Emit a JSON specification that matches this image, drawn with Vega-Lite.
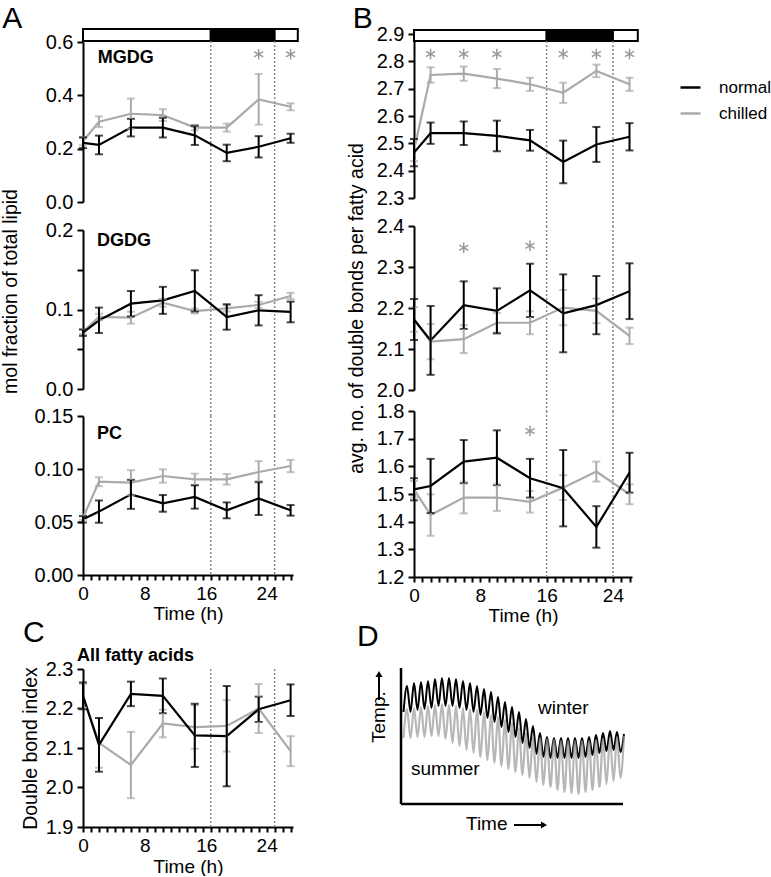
{
"$schema": "https://vega.github.io/schema/vega-lite/v6.json",
"padding": {"left": 0, "top": 3, "right": 0, "bottom": 0},
"config": {
 "font": "Liberation Sans",
 "view": {"stroke": null},
 "axis": {"grid": false, "domainColor": "black", "domainWidth": 2, "tickColor": "black", "tickWidth": 2, "tickSize": 6, "labelFontSize": 20, "labelColor": "black", "labelPadding": 4, "titleFontSize": 19.5, "titleFontWeight": "normal", "titleColor": "black", "labelOverlap": false, "labelFlush": false, "labelFont": "Liberation Sans", "titleFont": "Liberation Sans"},
 "axisX": {"tickSize": 5, "labelFontSize": 19, "labelPadding": 4}
},
"datasets": {
 "main": [
  {"p":"MGDG","g":"chilled","t":0,"v":0.228,"lo":0.213,"hi":0.243},
  {"p":"MGDG","g":"chilled","t":2,"v":0.301,"lo":0.281,"hi":0.321},
  {"p":"MGDG","g":"chilled","t":6,"v":0.331,"lo":0.274,"hi":0.388},
  {"p":"MGDG","g":"chilled","t":10,"v":0.326,"lo":0.304,"hi":0.348},
  {"p":"MGDG","g":"chilled","t":14,"v":0.279,"lo":0.269,"hi":0.289},
  {"p":"MGDG","g":"chilled","t":18,"v":0.279,"lo":0.264,"hi":0.294},
  {"p":"MGDG","g":"chilled","t":22,"v":0.385,"lo":0.29,"hi":0.48},
  {"p":"MGDG","g":"chilled","t":26,"v":0.357,"lo":0.344,"hi":0.37},
  {"p":"MGDG","g":"normal","t":0,"v":0.222,"lo":0.202,"hi":0.242},
  {"p":"MGDG","g":"normal","t":2,"v":0.214,"lo":0.179,"hi":0.249},
  {"p":"MGDG","g":"normal","t":6,"v":0.279,"lo":0.246,"hi":0.312},
  {"p":"MGDG","g":"normal","t":10,"v":0.279,"lo":0.242,"hi":0.316},
  {"p":"MGDG","g":"normal","t":14,"v":0.25,"lo":0.214,"hi":0.286},
  {"p":"MGDG","g":"normal","t":18,"v":0.184,"lo":0.153,"hi":0.215},
  {"p":"MGDG","g":"normal","t":22,"v":0.207,"lo":0.167,"hi":0.247},
  {"p":"MGDG","g":"normal","t":26,"v":0.239,"lo":0.222,"hi":0.256},
  {"p":"DGDG","g":"chilled","t":0,"v":0.072,"lo":0.069,"hi":0.075},
  {"p":"DGDG","g":"chilled","t":2,"v":0.0906,"lo":0.0866,"hi":0.0946},
  {"p":"DGDG","g":"chilled","t":6,"v":0.0897,"lo":0.0822,"hi":0.0972},
  {"p":"DGDG","g":"chilled","t":10,"v":0.1086,"lo":0.1036,"hi":0.1136},
  {"p":"DGDG","g":"chilled","t":14,"v":0.098,"lo":0.095,"hi":0.101},
  {"p":"DGDG","g":"chilled","t":18,"v":0.1015,"lo":0.0975,"hi":0.1055},
  {"p":"DGDG","g":"chilled","t":22,"v":0.1057,"lo":0.1017,"hi":0.1097},
  {"p":"DGDG","g":"chilled","t":26,"v":0.117,"lo":0.113,"hi":0.121},
  {"p":"DGDG","g":"normal","t":0,"v":0.0708,"lo":0.0668,"hi":0.0748},
  {"p":"DGDG","g":"normal","t":2,"v":0.0864,"lo":0.0704,"hi":0.1024},
  {"p":"DGDG","g":"normal","t":6,"v":0.1073,"lo":0.0913,"hi":0.1233},
  {"p":"DGDG","g":"normal","t":10,"v":0.1115,"lo":0.0945,"hi":0.1285},
  {"p":"DGDG","g":"normal","t":14,"v":0.1233,"lo":0.0973,"hi":0.1493},
  {"p":"DGDG","g":"normal","t":18,"v":0.0906,"lo":0.0746,"hi":0.1066},
  {"p":"DGDG","g":"normal","t":22,"v":0.099,"lo":0.08,"hi":0.118},
  {"p":"DGDG","g":"normal","t":26,"v":0.0969,"lo":0.0839,"hi":0.1099},
  {"p":"PC","g":"chilled","t":0,"v":0.054,"lo":0.052,"hi":0.056},
  {"p":"PC","g":"chilled","t":2,"v":0.088,"lo":0.0838,"hi":0.0922},
  {"p":"PC","g":"chilled","t":6,"v":0.0871,"lo":0.0753,"hi":0.0989},
  {"p":"PC","g":"chilled","t":10,"v":0.0934,"lo":0.0871,"hi":0.0997},
  {"p":"PC","g":"chilled","t":14,"v":0.0903,"lo":0.085,"hi":0.0956},
  {"p":"PC","g":"chilled","t":18,"v":0.0903,"lo":0.0853,"hi":0.0953},
  {"p":"PC","g":"chilled","t":22,"v":0.0972,"lo":0.087,"hi":0.1074},
  {"p":"PC","g":"chilled","t":26,"v":0.1028,"lo":0.097,"hi":0.1086},
  {"p":"PC","g":"normal","t":0,"v":0.0525,"lo":0.0495,"hi":0.0555},
  {"p":"PC","g":"normal","t":2,"v":0.0598,"lo":0.0493,"hi":0.0703},
  {"p":"PC","g":"normal","t":6,"v":0.0761,"lo":0.0624,"hi":0.0898},
  {"p":"PC","g":"normal","t":10,"v":0.0676,"lo":0.0597,"hi":0.0755},
  {"p":"PC","g":"normal","t":14,"v":0.0736,"lo":0.0626,"hi":0.0846},
  {"p":"PC","g":"normal","t":18,"v":0.061,"lo":0.0535,"hi":0.0685},
  {"p":"PC","g":"normal","t":22,"v":0.0723,"lo":0.0566,"hi":0.088},
  {"p":"PC","g":"normal","t":26,"v":0.061,"lo":0.056,"hi":0.066},
  {"p":"B1","g":"chilled","t":0,"v":2.475,"lo":2.435,"hi":2.515},
  {"p":"B1","g":"chilled","t":2,"v":2.75,"lo":2.722,"hi":2.778},
  {"p":"B1","g":"chilled","t":6,"v":2.755,"lo":2.729,"hi":2.781},
  {"p":"B1","g":"chilled","t":10,"v":2.737,"lo":2.702,"hi":2.772},
  {"p":"B1","g":"chilled","t":14,"v":2.716,"lo":2.692,"hi":2.74},
  {"p":"B1","g":"chilled","t":18,"v":2.685,"lo":2.648,"hi":2.722},
  {"p":"B1","g":"chilled","t":22,"v":2.765,"lo":2.742,"hi":2.788},
  {"p":"B1","g":"chilled","t":26,"v":2.716,"lo":2.692,"hi":2.74},
  {"p":"B1","g":"normal","t":0,"v":2.466,"lo":2.416,"hi":2.516},
  {"p":"B1","g":"normal","t":2,"v":2.537,"lo":2.498,"hi":2.576},
  {"p":"B1","g":"normal","t":6,"v":2.537,"lo":2.494,"hi":2.58},
  {"p":"B1","g":"normal","t":10,"v":2.527,"lo":2.471,"hi":2.583},
  {"p":"B1","g":"normal","t":14,"v":2.511,"lo":2.473,"hi":2.549},
  {"p":"B1","g":"normal","t":18,"v":2.432,"lo":2.354,"hi":2.51},
  {"p":"B1","g":"normal","t":22,"v":2.496,"lo":2.432,"hi":2.56},
  {"p":"B1","g":"normal","t":26,"v":2.524,"lo":2.474,"hi":2.574},
  {"p":"B2","g":"chilled","t":0,"v":2.172,"lo":2.142,"hi":2.202},
  {"p":"B2","g":"chilled","t":2,"v":2.118,"lo":2.075,"hi":2.161},
  {"p":"B2","g":"chilled","t":6,"v":2.124,"lo":2.09,"hi":2.158},
  {"p":"B2","g":"chilled","t":10,"v":2.164,"lo":2.14,"hi":2.188},
  {"p":"B2","g":"chilled","t":14,"v":2.164,"lo":2.136,"hi":2.192},
  {"p":"B2","g":"chilled","t":18,"v":2.201,"lo":2.158,"hi":2.244},
  {"p":"B2","g":"chilled","t":22,"v":2.193,"lo":2.163,"hi":2.223},
  {"p":"B2","g":"chilled","t":26,"v":2.132,"lo":2.112,"hi":2.152},
  {"p":"B2","g":"normal","t":0,"v":2.172,"lo":2.122,"hi":2.222},
  {"p":"B2","g":"normal","t":2,"v":2.121,"lo":2.037,"hi":2.205},
  {"p":"B2","g":"normal","t":6,"v":2.207,"lo":2.149,"hi":2.265},
  {"p":"B2","g":"normal","t":10,"v":2.193,"lo":2.138,"hi":2.248},
  {"p":"B2","g":"normal","t":14,"v":2.243,"lo":2.178,"hi":2.308},
  {"p":"B2","g":"normal","t":18,"v":2.187,"lo":2.092,"hi":2.282},
  {"p":"B2","g":"normal","t":22,"v":2.207,"lo":2.136,"hi":2.278},
  {"p":"B2","g":"normal","t":26,"v":2.241,"lo":2.173,"hi":2.309},
  {"p":"B3","g":"chilled","t":0,"v":1.517,"lo":1.487,"hi":1.547},
  {"p":"B3","g":"chilled","t":2,"v":1.424,"lo":1.349,"hi":1.499},
  {"p":"B3","g":"chilled","t":6,"v":1.487,"lo":1.43,"hi":1.544},
  {"p":"B3","g":"chilled","t":10,"v":1.487,"lo":1.439,"hi":1.535},
  {"p":"B3","g":"chilled","t":14,"v":1.472,"lo":1.433,"hi":1.511},
  {"p":"B3","g":"chilled","t":18,"v":1.523,"lo":1.478,"hi":1.568},
  {"p":"B3","g":"chilled","t":22,"v":1.581,"lo":1.545,"hi":1.617},
  {"p":"B3","g":"chilled","t":26,"v":1.499,"lo":1.463,"hi":1.535},
  {"p":"B3","g":"normal","t":0,"v":1.517,"lo":1.477,"hi":1.557},
  {"p":"B3","g":"normal","t":2,"v":1.529,"lo":1.431,"hi":1.627},
  {"p":"B3","g":"normal","t":6,"v":1.617,"lo":1.539,"hi":1.695},
  {"p":"B3","g":"normal","t":10,"v":1.631,"lo":1.532,"hi":1.73},
  {"p":"B3","g":"normal","t":14,"v":1.557,"lo":1.487,"hi":1.627},
  {"p":"B3","g":"normal","t":18,"v":1.521,"lo":1.383,"hi":1.659},
  {"p":"B3","g":"normal","t":22,"v":1.381,"lo":1.306,"hi":1.456},
  {"p":"B3","g":"normal","t":26,"v":1.577,"lo":1.505,"hi":1.649},
  {"p":"C","g":"chilled","t":0,"v":2.232,"lo":2.202,"hi":2.262},
  {"p":"C","g":"chilled","t":2,"v":2.113,"lo":2.05,"hi":2.176},
  {"p":"C","g":"chilled","t":6,"v":2.057,"lo":1.973,"hi":2.141},
  {"p":"C","g":"chilled","t":10,"v":2.162,"lo":2.127,"hi":2.197},
  {"p":"C","g":"chilled","t":14,"v":2.153,"lo":2.098,"hi":2.208},
  {"p":"C","g":"chilled","t":18,"v":2.156,"lo":2.091,"hi":2.221},
  {"p":"C","g":"chilled","t":22,"v":2.2,"lo":2.138,"hi":2.262},
  {"p":"C","g":"chilled","t":26,"v":2.092,"lo":2.054,"hi":2.13},
  {"p":"C","g":"normal","t":0,"v":2.232,"lo":2.198,"hi":2.266},
  {"p":"C","g":"normal","t":2,"v":2.108,"lo":2.04,"hi":2.176},
  {"p":"C","g":"normal","t":6,"v":2.237,"lo":2.206,"hi":2.268},
  {"p":"C","g":"normal","t":10,"v":2.232,"lo":2.188,"hi":2.276},
  {"p":"C","g":"normal","t":14,"v":2.132,"lo":2.052,"hi":2.212},
  {"p":"C","g":"normal","t":18,"v":2.13,"lo":2.003,"hi":2.257},
  {"p":"C","g":"normal","t":22,"v":2.198,"lo":2.166,"hi":2.23},
  {"p":"C","g":"normal","t":26,"v":2.221,"lo":2.181,"hi":2.261}
 ],
 "stars": [
  {"p":"MGDG","t":22,"v":0.554},{"p":"MGDG","t":26,"v":0.554},
  {"p":"B1","t":2,"v":2.827},{"p":"B1","t":6,"v":2.827},{"p":"B1","t":10,"v":2.827},{"p":"B1","t":18,"v":2.827},{"p":"B1","t":22,"v":2.827},{"p":"B1","t":26,"v":2.827},
  {"p":"B2","t":6,"v":2.347},{"p":"B2","t":14,"v":2.352},
  {"p":"B3","t":14,"v":1.728}
 ],
 "bars": [
  {"col":"A","a":0,"b":16,"phase":"light"},{"col":"A","a":16,"b":24,"phase":"dark"},{"col":"A","a":24,"b":26.9,"phase":"light"},
  {"col":"B","a":0,"b":16,"phase":"light"},{"col":"B","a":16,"b":24,"phase":"dark"},{"col":"B","a":24,"b":27,"phase":"light"}
 ],
 "wave": [
  {"s":"winter","x":2.5,"h":92},{"s":"winter","x":6,"h":118},{"s":"winter","x":9.5,"h":92},{"s":"winter","x":13,"h":121},{"s":"winter","x":16.5,"h":94},{"s":"winter","x":20,"h":122},{"s":"winter","x":23.5,"h":95},{"s":"winter","x":27,"h":123},{"s":"winter","x":30.5,"h":96},{"s":"winter","x":34,"h":125},{"s":"winter","x":37.5,"h":98},{"s":"winter","x":41,"h":126},{"s":"winter","x":44.5,"h":98},{"s":"winter","x":48,"h":126},{"s":"winter","x":51.5,"h":98},{"s":"winter","x":55,"h":125},{"s":"winter","x":58.5,"h":96},{"s":"winter","x":62,"h":123},{"s":"winter","x":65.5,"h":94},{"s":"winter","x":69,"h":121},{"s":"winter","x":72.5,"h":92},{"s":"winter","x":76,"h":118},{"s":"winter","x":79.5,"h":89},{"s":"winter","x":83,"h":115},{"s":"winter","x":86.5,"h":86},{"s":"winter","x":90,"h":112},{"s":"winter","x":93.5,"h":82},{"s":"winter","x":97,"h":107},{"s":"winter","x":100.5,"h":77},{"s":"winter","x":104,"h":102},{"s":"winter","x":107.5,"h":72},{"s":"winter","x":111,"h":97},{"s":"winter","x":114.5,"h":67},{"s":"winter","x":118,"h":92},{"s":"winter","x":121.5,"h":61},{"s":"winter","x":125,"h":85},{"s":"winter","x":128.5,"h":56},{"s":"winter","x":132,"h":78},{"s":"winter","x":135.5,"h":50},{"s":"winter","x":139,"h":71},{"s":"winter","x":142.5,"h":47},{"s":"winter","x":146,"h":67},{"s":"winter","x":149.5,"h":46},{"s":"winter","x":153,"h":66},{"s":"winter","x":156.5,"h":46},{"s":"winter","x":160,"h":66},{"s":"winter","x":163.5,"h":46},{"s":"winter","x":167,"h":66},{"s":"winter","x":170.5,"h":46},{"s":"winter","x":174,"h":66},{"s":"winter","x":177.5,"h":46},{"s":"winter","x":181,"h":66},{"s":"winter","x":184.5,"h":47},{"s":"winter","x":188,"h":67},{"s":"winter","x":191.5,"h":49},{"s":"winter","x":195,"h":69},{"s":"winter","x":198.5,"h":51},{"s":"winter","x":202,"h":71},{"s":"winter","x":205.5,"h":53},{"s":"winter","x":209,"h":73},{"s":"winter","x":212.5,"h":54},{"s":"winter","x":216,"h":72},{"s":"winter","x":219.5,"h":52},{"s":"winter","x":223,"h":70},
  {"s":"summer","x":2.5,"h":66},{"s":"summer","x":6,"h":95},{"s":"summer","x":9.5,"h":66},{"s":"summer","x":13,"h":96},{"s":"summer","x":16.5,"h":67},{"s":"summer","x":20,"h":97},{"s":"summer","x":23.5,"h":67},{"s":"summer","x":27,"h":98},{"s":"summer","x":30.5,"h":68},{"s":"summer","x":34,"h":99},{"s":"summer","x":37.5,"h":68},{"s":"summer","x":41,"h":100},{"s":"summer","x":44.5,"h":65},{"s":"summer","x":48,"h":99},{"s":"summer","x":51.5,"h":61},{"s":"summer","x":55,"h":98},{"s":"summer","x":58.5,"h":58},{"s":"summer","x":62,"h":96},{"s":"summer","x":65.5,"h":54},{"s":"summer","x":69,"h":95},{"s":"summer","x":72.5,"h":51},{"s":"summer","x":76,"h":94},{"s":"summer","x":79.5,"h":47},{"s":"summer","x":83,"h":92},{"s":"summer","x":86.5,"h":44},{"s":"summer","x":90,"h":89},{"s":"summer","x":93.5,"h":41},{"s":"summer","x":97,"h":87},{"s":"summer","x":100.5,"h":38},{"s":"summer","x":104,"h":84},{"s":"summer","x":107.5,"h":35},{"s":"summer","x":111,"h":81},{"s":"summer","x":114.5,"h":32},{"s":"summer","x":118,"h":76},{"s":"summer","x":121.5,"h":29},{"s":"summer","x":125,"h":71},{"s":"summer","x":128.5,"h":26},{"s":"summer","x":132,"h":67},{"s":"summer","x":135.5,"h":22},{"s":"summer","x":139,"h":66},{"s":"summer","x":142.5,"h":19},{"s":"summer","x":146,"h":65},{"s":"summer","x":149.5,"h":17},{"s":"summer","x":153,"h":64},{"s":"summer","x":156.5,"h":14},{"s":"summer","x":160,"h":63},{"s":"summer","x":163.5,"h":12},{"s":"summer","x":167,"h":63},{"s":"summer","x":170.5,"h":11},{"s":"summer","x":174,"h":63},{"s":"summer","x":177.5,"h":10},{"s":"summer","x":181,"h":63},{"s":"summer","x":184.5,"h":12},{"s":"summer","x":188,"h":63},{"s":"summer","x":191.5,"h":14},{"s":"summer","x":195,"h":64},{"s":"summer","x":198.5,"h":17},{"s":"summer","x":202,"h":65},{"s":"summer","x":205.5,"h":20},{"s":"summer","x":209,"h":66},{"s":"summer","x":212.5,"h":23},{"s":"summer","x":216,"h":67},{"s":"summer","x":219.5,"h":26},{"s":"summer","x":223,"h":68}
 ]
},
"hconcat": [
 {
  "vconcat": [
   {"width": 10, "height": 7, "data": {"values": []}, "mark": "point"},
   {
    "width": 210, "height": 160,
    "layer": [
     {"data": {"name": "bars"}, "transform": [{"filter": "datum.col === 'A'"}], "mark": {"type": "rect", "stroke": "black", "strokeWidth": 2}, "encoding": {"x": {"field": "a", "type": "quantitative", "scale": {"domain": [0, 26.3], "nice": false, "zero": false}, "axis": null}, "x2": {"field": "b"}, "y": {"datum": 0.6487, "scale": {"domain": [0, 0.6], "nice": false, "zero": false}}, "y2": {"datum": 0.6037}, "fill": {"field": "phase", "type": "nominal", "scale": {"domain": ["light", "dark"], "range": ["white", "black"]}, "legend": null}}},
     {"data": {"values": [{"t": 16}, {"t": 24}]}, "mark": {"type": "rule", "color": "#888", "strokeDash": [2, 2], "strokeWidth": 1.5}, "encoding": {"x": {"field": "t", "type": "quantitative", "scale": {"domain": [0, 26.3], "nice": false, "zero": false}, "axis": null}, "y": {"datum": 0.6037, "scale": {"domain": [0, 0.6], "nice": false, "zero": false}}, "y2": {"datum": -0.105}}},
     {"data": {"name": "main"}, "transform": [{"filter": "datum.p === 'MGDG'"}], "mark": {"type": "line", "strokeWidth": 2.2}, "encoding": {"x": {"field": "t", "type": "quantitative", "scale": {"domain": [0, 26.3], "nice": false, "zero": false}, "axis": null}, "y": {"field": "v", "type": "quantitative", "scale": {"domain": [0, 0.6], "nice": false, "zero": false}, "axis": {"values": [0, 0.2, 0.4, 0.6], "tickCount": 10, "format": ".1f", "title": null, "labelOverlap": false}}, "color": {"field": "g", "type": "nominal", "scale": {"domain": ["normal", "chilled"], "range": ["#000000", "#aaaaaa"]}, "legend": {"title": null, "orient": "none", "legendX": 596, "legendY": 42, "symbolType": "stroke", "symbolSize": 400, "symbolStrokeWidth": 2.5, "symbolOpacity": 1, "labelFontSize": 17, "labelOffset": 17, "rowPadding": 6, "labelColor": "black", "labelFont": "Liberation Sans"}}}},
     {"data": {"name": "main"}, "transform": [{"filter": "datum.p === 'MGDG'"}], "mark": {"type": "errorbar", "ticks": {"size": 8}, "thickness": 2}, "encoding": {"x": {"field": "t", "type": "quantitative", "scale": {"domain": [0, 26.3], "nice": false, "zero": false}, "axis": null}, "y": {"field": "lo", "type": "quantitative", "title": null, "scale": {"domain": [0, 0.6], "nice": false, "zero": false}}, "y2": {"field": "hi"}, "color": {"field": "g", "type": "nominal", "scale": {"domain": ["normal", "chilled"], "range": ["#000000", "#aaaaaa"]}, "legend": {"title": null, "orient": "none", "legendX": 596, "legendY": 42, "symbolType": "stroke", "symbolSize": 400, "symbolStrokeWidth": 2.5, "symbolOpacity": 1, "labelFontSize": 17, "labelOffset": 17, "rowPadding": 6, "labelColor": "black", "labelFont": "Liberation Sans"}}}},
     {"data": {"name": "stars"}, "transform": [{"filter": "datum.p === 'MGDG'"}], "mark": {"type": "point", "shape": "M0,-1L0,1M-0.87,-0.5L0.87,0.5M-0.87,0.5L0.87,-0.5", "filled": false, "stroke": "#999", "strokeWidth": 1.5, "size": 110, "opacity": 1}, "encoding": {"x": {"field": "t", "type": "quantitative", "scale": {"domain": [0, 26.3], "nice": false, "zero": false}, "axis": null}, "y": {"field": "v", "type": "quantitative", "scale": {"domain": [0, 0.6], "nice": false, "zero": false}}}},
     {"data": {"values": [{}]}, "mark": {"type": "text", "text": "MGDG", "fontWeight": "bold", "fontSize": 18, "align": "left", "baseline": "alphabetic"}, "encoding": {"x": {"datum": 1.84, "scale": {"domain": [0, 26.3], "nice": false, "zero": false}, "axis": null}, "y": {"datum": 0.522, "scale": {"domain": [0, 0.6], "nice": false, "zero": false}}}},
     {"data": {"values": [{}]}, "mark": {"type": "text", "text": "A", "fontSize": 30, "align": "left", "baseline": "alphabetic"}, "encoding": {"x": {"datum": -10.1, "scale": {"domain": [0, 26.3], "nice": false, "zero": false}, "axis": null}, "y": {"datum": 0.6524, "scale": {"domain": [0, 0.6], "nice": false, "zero": false}}}}
    ]
   },
   {"width": 10, "height": 26, "data": {"values": []}, "mark": "point"},
   {
    "width": 210, "height": 159,
    "layer": [
     {"data": {"values": [{"t": 16}, {"t": 24}]}, "mark": {"type": "rule", "color": "#888", "strokeDash": [2, 2], "strokeWidth": 1.5}, "encoding": {"x": {"field": "t", "type": "quantitative", "scale": {"domain": [0, 26.3], "nice": false, "zero": false}, "axis": null}, "y": {"datum": 0.2, "scale": {"domain": [0, 0.2], "nice": false, "zero": false}}, "y2": {"datum": -0.034}}},
     {"data": {"name": "main"}, "transform": [{"filter": "datum.p === 'DGDG'"}], "mark": {"type": "line", "strokeWidth": 2.2}, "encoding": {"x": {"field": "t", "type": "quantitative", "scale": {"domain": [0, 26.3], "nice": false, "zero": false}, "axis": null}, "y": {"field": "v", "type": "quantitative", "scale": {"domain": [0, 0.2], "nice": false, "zero": false}, "axis": {"values": [0, 0.05, 0.1, 0.15, 0.2], "tickCount": 10, "labelOverlap": false, "labelExpr": "abs(datum.value - 0.05) < 0.001 || abs(datum.value - 0.15) < 0.001 ? '' : format(datum.value, '.1f')", "title": "mol fraction of total lipid", "titleX": -67, "titleY": 61, "titleBaseline": "alphabetic", "titleAlign": "center", "titleAngle": 270}}, "color": {"field": "g", "type": "nominal", "scale": {"domain": ["normal", "chilled"], "range": ["#000000", "#aaaaaa"]}, "legend": {"title": null, "orient": "none", "legendX": 596, "legendY": 42, "symbolType": "stroke", "symbolSize": 400, "symbolStrokeWidth": 2.5, "symbolOpacity": 1, "labelFontSize": 17, "labelOffset": 17, "rowPadding": 6, "labelColor": "black", "labelFont": "Liberation Sans"}}}},
     {"data": {"name": "main"}, "transform": [{"filter": "datum.p === 'DGDG'"}], "mark": {"type": "errorbar", "ticks": {"size": 8}, "thickness": 2}, "encoding": {"x": {"field": "t", "type": "quantitative", "scale": {"domain": [0, 26.3], "nice": false, "zero": false}, "axis": null}, "y": {"field": "lo", "type": "quantitative", "title": "mol fraction of total lipid", "scale": {"domain": [0, 0.2], "nice": false, "zero": false}}, "y2": {"field": "hi"}, "color": {"field": "g", "type": "nominal", "scale": {"domain": ["normal", "chilled"], "range": ["#000000", "#aaaaaa"]}, "legend": {"title": null, "orient": "none", "legendX": 596, "legendY": 42, "symbolType": "stroke", "symbolSize": 400, "symbolStrokeWidth": 2.5, "symbolOpacity": 1, "labelFontSize": 17, "labelOffset": 17, "rowPadding": 6, "labelColor": "black", "labelFont": "Liberation Sans"}}}},
     {"data": {"values": [{}]}, "mark": {"type": "text", "text": "DGDG", "fontWeight": "bold", "fontSize": 18, "align": "left", "baseline": "alphabetic"}, "encoding": {"x": {"datum": 1.75, "scale": {"domain": [0, 26.3], "nice": false, "zero": false}, "axis": null}, "y": {"datum": 0.18, "scale": {"domain": [0, 0.2], "nice": false, "zero": false}}}}
    ]
   },
   {"width": 10, "height": 25, "data": {"values": []}, "mark": "point"},
   {
    "width": 210, "height": 159,
    "layer": [
     {"data": {"values": [{"t": 16}, {"t": 24}]}, "mark": {"type": "rule", "color": "#888", "strokeDash": [2, 2], "strokeWidth": 1.5}, "encoding": {"x": {"field": "t", "type": "quantitative", "scale": {"domain": [0, 26.3], "nice": false, "zero": false}}, "y": {"datum": 0.15, "scale": {"domain": [0, 0.15], "nice": false, "zero": false}}, "y2": {"datum": 0}}},
     {"data": {"name": "main"}, "transform": [{"filter": "datum.p === 'PC'"}], "mark": {"type": "line", "strokeWidth": 2.2}, "encoding": {"x": {"field": "t", "type": "quantitative", "scale": {"domain": [0, 26.3], "nice": false, "zero": false}, "axis": {"values": [0,1,2,3,4,5,6,7,8,9,10,11,12,13,14,15,16,17,18,19,20,21,22,23,24,25,26], "tickCount": 30, "labelOverlap": false, "labelExpr": "datum.value % 8 === 0 ? datum.label : ''", "labelOffset": {"condition": [{"test": "datum.value === 8", "value": -2}, {"test": "datum.value === 16", "value": -4.5}, {"test": "datum.value === 24", "value": -8}], "value": 0}, "title": "Time (h)", "titleY": 44, "titleBaseline": "alphabetic", "titleFontSize": 19}}, "y": {"field": "v", "type": "quantitative", "scale": {"domain": [0, 0.15], "nice": false, "zero": false}, "axis": {"values": [0, 0.05, 0.1, 0.15], "tickCount": 10, "format": ".2f", "title": null, "labelOverlap": false}}, "color": {"field": "g", "type": "nominal", "scale": {"domain": ["normal", "chilled"], "range": ["#000000", "#aaaaaa"]}, "legend": {"title": null, "orient": "none", "legendX": 596, "legendY": 42, "symbolType": "stroke", "symbolSize": 400, "symbolStrokeWidth": 2.5, "symbolOpacity": 1, "labelFontSize": 17, "labelOffset": 17, "rowPadding": 6, "labelColor": "black", "labelFont": "Liberation Sans"}}}},
     {"data": {"name": "main"}, "transform": [{"filter": "datum.p === 'PC'"}], "mark": {"type": "errorbar", "ticks": {"size": 8}, "thickness": 2}, "encoding": {"x": {"field": "t", "type": "quantitative", "title": "Time (h)", "scale": {"domain": [0, 26.3], "nice": false, "zero": false}}, "y": {"field": "lo", "type": "quantitative", "title": null, "scale": {"domain": [0, 0.15], "nice": false, "zero": false}}, "y2": {"field": "hi"}, "color": {"field": "g", "type": "nominal", "scale": {"domain": ["normal", "chilled"], "range": ["#000000", "#aaaaaa"]}, "legend": {"title": null, "orient": "none", "legendX": 596, "legendY": 42, "symbolType": "stroke", "symbolSize": 400, "symbolStrokeWidth": 2.5, "symbolOpacity": 1, "labelFontSize": 17, "labelOffset": 17, "rowPadding": 6, "labelColor": "black", "labelFont": "Liberation Sans"}}}},
     {"data": {"values": [{}]}, "mark": {"type": "text", "text": "PC", "fontWeight": "bold", "fontSize": 18, "align": "left", "baseline": "alphabetic"}, "encoding": {"x": {"datum": 1.75, "scale": {"domain": [0, 26.3], "nice": false, "zero": false}}, "y": {"datum": 0.128, "scale": {"domain": [0, 0.15], "nice": false, "zero": false}}}}
    ]
   },
   {"width": 10, "height": 92, "data": {"values": []}, "mark": "point"},
   {
    "width": 210, "height": 158,
    "layer": [
     {"data": {"values": [{"t": 16}, {"t": 24}]}, "mark": {"type": "rule", "color": "#888", "strokeDash": [2, 2], "strokeWidth": 1.5}, "encoding": {"x": {"field": "t", "type": "quantitative", "scale": {"domain": [0, 26.3], "nice": false, "zero": false}}, "y": {"datum": 2.3, "scale": {"domain": [1.9, 2.3], "nice": false, "zero": false}}, "y2": {"datum": 1.9}}},
     {"data": {"name": "main"}, "transform": [{"filter": "datum.p === 'C'"}], "mark": {"type": "line", "strokeWidth": 2.2}, "encoding": {"x": {"field": "t", "type": "quantitative", "scale": {"domain": [0, 26.3], "nice": false, "zero": false}, "axis": {"values": [0,1,2,3,4,5,6,7,8,9,10,11,12,13,14,15,16,17,18,19,20,21,22,23,24,25,26], "tickCount": 30, "labelOverlap": false, "labelExpr": "datum.value % 8 === 0 ? datum.label : ''", "labelOffset": {"condition": [{"test": "datum.value === 8", "value": -2}, {"test": "datum.value === 16", "value": -4.5}, {"test": "datum.value === 24", "value": -8}], "value": 0}, "title": "Time (h)", "titleY": 45, "titleBaseline": "alphabetic", "titleFontSize": 19}}, "y": {"field": "v", "type": "quantitative", "scale": {"domain": [1.9, 2.3], "nice": false, "zero": false}, "axis": {"values": [1.9, 2.0, 2.1, 2.2, 2.3], "tickCount": 10, "format": ".1f", "labelOverlap": false, "title": "Double bond index", "titleX": -47, "titleY": 79, "titleBaseline": "alphabetic", "titleAlign": "center", "titleAngle": 270}}, "color": {"field": "g", "type": "nominal", "scale": {"domain": ["normal", "chilled"], "range": ["#000000", "#aaaaaa"]}, "legend": {"title": null, "orient": "none", "legendX": 596, "legendY": 42, "symbolType": "stroke", "symbolSize": 400, "symbolStrokeWidth": 2.5, "symbolOpacity": 1, "labelFontSize": 17, "labelOffset": 17, "rowPadding": 6, "labelColor": "black", "labelFont": "Liberation Sans"}}}},
     {"data": {"name": "main"}, "transform": [{"filter": "datum.p === 'C'"}], "mark": {"type": "errorbar", "ticks": {"size": 8}, "thickness": 2}, "encoding": {"x": {"field": "t", "type": "quantitative", "title": "Time (h)", "scale": {"domain": [0, 26.3], "nice": false, "zero": false}}, "y": {"field": "lo", "type": "quantitative", "title": "Double bond index", "scale": {"domain": [1.9, 2.3], "nice": false, "zero": false}}, "y2": {"field": "hi"}, "color": {"field": "g", "type": "nominal", "scale": {"domain": ["normal", "chilled"], "range": ["#000000", "#aaaaaa"]}, "legend": {"title": null, "orient": "none", "legendX": 596, "legendY": 42, "symbolType": "stroke", "symbolSize": 400, "symbolStrokeWidth": 2.5, "symbolOpacity": 1, "labelFontSize": 17, "labelOffset": 17, "rowPadding": 6, "labelColor": "black", "labelFont": "Liberation Sans"}}}},
     {"data": {"values": [{}]}, "mark": {"type": "text", "text": "All fatty acids", "fontWeight": "bold", "fontSize": 18, "align": "left", "baseline": "alphabetic"}, "encoding": {"x": {"datum": -0.75, "scale": {"domain": [0, 26.3], "nice": false, "zero": false}}, "y": {"datum": 2.32, "scale": {"domain": [1.9, 2.3], "nice": false, "zero": false}}}},
     {"data": {"values": [{}]}, "mark": {"type": "text", "text": "C", "fontSize": 30, "align": "left", "baseline": "alphabetic"}, "encoding": {"x": {"datum": -7.5, "scale": {"domain": [0, 26.3], "nice": false, "zero": false}}, "y": {"datum": 2.368, "scale": {"domain": [1.9, 2.3], "nice": false, "zero": false}}}}
    ]
   }
  ],
  "spacing": 1,
  "bounds": "flush",
  "resolve": {"scale": {"x": "independent", "y": "independent"}}
 },
 {
  "vconcat": [
   {
    "width": 218, "height": 164,
    "layer": [
     {"data": {"name": "bars"}, "transform": [{"filter": "datum.col === 'B'"}], "mark": {"type": "rect", "stroke": "black", "strokeWidth": 2}, "encoding": {"x": {"field": "a", "type": "quantitative", "scale": {"domain": [0, 26.3], "nice": false, "zero": false}, "axis": null}, "x2": {"field": "b"}, "y": {"datum": 2.9146, "scale": {"domain": [2.3, 2.9], "nice": false, "zero": false}}, "y2": {"datum": 2.8744}, "fill": {"field": "phase", "type": "nominal", "scale": {"domain": ["light", "dark"], "range": ["white", "black"]}, "legend": null}}},
     {"data": {"values": [{"t": 16}, {"t": 24}]}, "mark": {"type": "rule", "color": "#888", "strokeDash": [2, 2], "strokeWidth": 1.5}, "encoding": {"x": {"field": "t", "type": "quantitative", "scale": {"domain": [0, 26.3], "nice": false, "zero": false}, "axis": null}, "y": {"datum": 2.8744, "scale": {"domain": [2.3, 2.9], "nice": false, "zero": false}}, "y2": {"datum": 2.1976}}},
     {"data": {"name": "main"}, "transform": [{"filter": "datum.p === 'B1'"}], "mark": {"type": "line", "strokeWidth": 2.2}, "encoding": {"x": {"field": "t", "type": "quantitative", "scale": {"domain": [0, 26.3], "nice": false, "zero": false}, "axis": null}, "y": {"field": "v", "type": "quantitative", "scale": {"domain": [2.3, 2.9], "nice": false, "zero": false}, "axis": {"values": [2.3, 2.4, 2.5, 2.6, 2.7, 2.8, 2.9], "tickCount": 10, "format": ".1f", "title": null, "labelOverlap": false}}, "color": {"field": "g", "type": "nominal", "scale": {"domain": ["normal", "chilled"], "range": ["#000000", "#aaaaaa"]}, "legend": {"title": null, "orient": "none", "legendX": 596, "legendY": 42, "symbolType": "stroke", "symbolSize": 400, "symbolStrokeWidth": 2.5, "symbolOpacity": 1, "labelFontSize": 17, "labelOffset": 17, "rowPadding": 6, "labelColor": "black", "labelFont": "Liberation Sans"}}}},
     {"data": {"name": "main"}, "transform": [{"filter": "datum.p === 'B1'"}], "mark": {"type": "errorbar", "ticks": {"size": 8}, "thickness": 2}, "encoding": {"x": {"field": "t", "type": "quantitative", "scale": {"domain": [0, 26.3], "nice": false, "zero": false}, "axis": null}, "y": {"field": "lo", "type": "quantitative", "title": null, "scale": {"domain": [2.3, 2.9], "nice": false, "zero": false}}, "y2": {"field": "hi"}, "color": {"field": "g", "type": "nominal", "scale": {"domain": ["normal", "chilled"], "range": ["#000000", "#aaaaaa"]}, "legend": {"title": null, "orient": "none", "legendX": 596, "legendY": 42, "symbolType": "stroke", "symbolSize": 400, "symbolStrokeWidth": 2.5, "symbolOpacity": 1, "labelFontSize": 17, "labelOffset": 17, "rowPadding": 6, "labelColor": "black", "labelFont": "Liberation Sans"}}}},
     {"data": {"name": "stars"}, "transform": [{"filter": "datum.p === 'B1'"}], "mark": {"type": "point", "shape": "M0,-1L0,1M-0.87,-0.5L0.87,0.5M-0.87,0.5L0.87,-0.5", "filled": false, "stroke": "#999", "strokeWidth": 1.5, "size": 110, "opacity": 1}, "encoding": {"x": {"field": "t", "type": "quantitative", "scale": {"domain": [0, 26.3], "nice": false, "zero": false}, "axis": null}, "y": {"field": "v", "type": "quantitative", "scale": {"domain": [2.3, 2.9], "nice": false, "zero": false}}}},
     {"data": {"values": [{}]}, "mark": {"type": "text", "text": "B", "fontSize": 30, "align": "left", "baseline": "alphabetic"}, "encoding": {"x": {"datum": -7.4, "scale": {"domain": [0, 26.3], "nice": false, "zero": false}, "axis": null}, "y": {"datum": 2.922, "scale": {"domain": [2.3, 2.9], "nice": false, "zero": false}}}}
    ]
   },
   {"width": 10, "height": 26, "data": {"values": []}, "mark": "point"},
   {
    "width": 218, "height": 164,
    "layer": [
     {"data": {"values": [{"t": 16}, {"t": 24}]}, "mark": {"type": "rule", "color": "#888", "strokeDash": [2, 2], "strokeWidth": 1.5}, "encoding": {"x": {"field": "t", "type": "quantitative", "scale": {"domain": [0, 26.3], "nice": false, "zero": false}, "axis": null}, "y": {"datum": 2.4, "scale": {"domain": [2.0, 2.4], "nice": false, "zero": false}}, "y2": {"datum": 1.9488}}},
     {"data": {"name": "main"}, "transform": [{"filter": "datum.p === 'B2'"}], "mark": {"type": "line", "strokeWidth": 2.2}, "encoding": {"x": {"field": "t", "type": "quantitative", "scale": {"domain": [0, 26.3], "nice": false, "zero": false}, "axis": null}, "y": {"field": "v", "type": "quantitative", "scale": {"domain": [2.0, 2.4], "nice": false, "zero": false}, "axis": {"values": [2.0, 2.1, 2.2, 2.3, 2.4], "tickCount": 10, "format": ".1f", "labelOverlap": false, "title": "avg. no. of double bonds per fatty acid", "titlePadding": 10}}, "color": {"field": "g", "type": "nominal", "scale": {"domain": ["normal", "chilled"], "range": ["#000000", "#aaaaaa"]}, "legend": {"title": null, "orient": "none", "legendX": 596, "legendY": 42, "symbolType": "stroke", "symbolSize": 400, "symbolStrokeWidth": 2.5, "symbolOpacity": 1, "labelFontSize": 17, "labelOffset": 17, "rowPadding": 6, "labelColor": "black", "labelFont": "Liberation Sans"}}}},
     {"data": {"name": "main"}, "transform": [{"filter": "datum.p === 'B2'"}], "mark": {"type": "errorbar", "ticks": {"size": 8}, "thickness": 2}, "encoding": {"x": {"field": "t", "type": "quantitative", "scale": {"domain": [0, 26.3], "nice": false, "zero": false}, "axis": null}, "y": {"field": "lo", "type": "quantitative", "title": "avg. no. of double bonds per fatty acid", "scale": {"domain": [2.0, 2.4], "nice": false, "zero": false}}, "y2": {"field": "hi"}, "color": {"field": "g", "type": "nominal", "scale": {"domain": ["normal", "chilled"], "range": ["#000000", "#aaaaaa"]}, "legend": {"title": null, "orient": "none", "legendX": 596, "legendY": 42, "symbolType": "stroke", "symbolSize": 400, "symbolStrokeWidth": 2.5, "symbolOpacity": 1, "labelFontSize": 17, "labelOffset": 17, "rowPadding": 6, "labelColor": "black", "labelFont": "Liberation Sans"}}}},
     {"data": {"name": "stars"}, "transform": [{"filter": "datum.p === 'B2'"}], "mark": {"type": "point", "shape": "M0,-1L0,1M-0.87,-0.5L0.87,0.5M-0.87,0.5L0.87,-0.5", "filled": false, "stroke": "#999", "strokeWidth": 1.5, "size": 110, "opacity": 1}, "encoding": {"x": {"field": "t", "type": "quantitative", "scale": {"domain": [0, 26.3], "nice": false, "zero": false}, "axis": null}, "y": {"field": "v", "type": "quantitative", "scale": {"domain": [2.0, 2.4], "nice": false, "zero": false}}}}
    ]
   },
   {"width": 10, "height": 19, "data": {"values": []}, "mark": "point"},
   {
    "width": 218, "height": 166,
    "layer": [
     {"data": {"values": [{"t": 16}, {"t": 24}]}, "mark": {"type": "rule", "color": "#888", "strokeDash": [2, 2], "strokeWidth": 1.5}, "encoding": {"x": {"field": "t", "type": "quantitative", "scale": {"domain": [0, 26.3], "nice": false, "zero": false}}, "y": {"datum": 1.8, "scale": {"domain": [1.2, 1.8], "nice": false, "zero": false}}, "y2": {"datum": 1.2}}},
     {"data": {"name": "main"}, "transform": [{"filter": "datum.p === 'B3'"}], "mark": {"type": "line", "strokeWidth": 2.2}, "encoding": {"x": {"field": "t", "type": "quantitative", "scale": {"domain": [0, 26.3], "nice": false, "zero": false}, "axis": {"values": [0,1,2,3,4,5,6,7,8,9,10,11,12,13,14,15,16,17,18,19,20,21,22,23,24,25,26], "tickCount": 30, "labelOverlap": false, "labelExpr": "datum.value % 8 === 0 ? datum.label : ''", "title": "Time (h)", "titleY": 44, "titleBaseline": "alphabetic", "titleFontSize": 19}}, "y": {"field": "v", "type": "quantitative", "scale": {"domain": [1.2, 1.8], "nice": false, "zero": false}, "axis": {"values": [1.2, 1.3, 1.4, 1.5, 1.6, 1.7, 1.8], "tickCount": 10, "format": ".1f", "title": null, "labelOverlap": false}}, "color": {"field": "g", "type": "nominal", "scale": {"domain": ["normal", "chilled"], "range": ["#000000", "#aaaaaa"]}, "legend": {"title": null, "orient": "none", "legendX": 596, "legendY": 42, "symbolType": "stroke", "symbolSize": 400, "symbolStrokeWidth": 2.5, "symbolOpacity": 1, "labelFontSize": 17, "labelOffset": 17, "rowPadding": 6, "labelColor": "black", "labelFont": "Liberation Sans"}}}},
     {"data": {"name": "main"}, "transform": [{"filter": "datum.p === 'B3'"}], "mark": {"type": "errorbar", "ticks": {"size": 8}, "thickness": 2}, "encoding": {"x": {"field": "t", "type": "quantitative", "title": "Time (h)", "scale": {"domain": [0, 26.3], "nice": false, "zero": false}}, "y": {"field": "lo", "type": "quantitative", "title": null, "scale": {"domain": [1.2, 1.8], "nice": false, "zero": false}}, "y2": {"field": "hi"}, "color": {"field": "g", "type": "nominal", "scale": {"domain": ["normal", "chilled"], "range": ["#000000", "#aaaaaa"]}, "legend": {"title": null, "orient": "none", "legendX": 596, "legendY": 42, "symbolType": "stroke", "symbolSize": 400, "symbolStrokeWidth": 2.5, "symbolOpacity": 1, "labelFontSize": 17, "labelOffset": 17, "rowPadding": 6, "labelColor": "black", "labelFont": "Liberation Sans"}}}},
     {"data": {"name": "stars"}, "transform": [{"filter": "datum.p === 'B3'"}], "mark": {"type": "point", "shape": "M0,-1L0,1M-0.87,-0.5L0.87,0.5M-0.87,0.5L0.87,-0.5", "filled": false, "stroke": "#999", "strokeWidth": 1.5, "size": 110, "opacity": 1}, "encoding": {"x": {"field": "t", "type": "quantitative", "scale": {"domain": [0, 26.3], "nice": false, "zero": false}}, "y": {"field": "v", "type": "quantitative", "scale": {"domain": [1.2, 1.8], "nice": false, "zero": false}}}}
    ]
   },
   {"width": 10, "height": 89, "data": {"values": []}, "mark": "point"},
   {
    "width": 209, "height": 136,
    "layer": [
     {"data": {"name": "wave"}, "transform": [{"filter": "datum.s === 'winter'"}], "mark": {"type": "line", "color": "black", "strokeWidth": 2, "interpolate": "monotone"}, "encoding": {"x": {"field": "x", "type": "quantitative", "scale": {"domain": [13, 222], "nice": false, "zero": false}, "axis": null}, "y": {"field": "h", "type": "quantitative", "scale": {"domain": [0, 136], "nice": false, "zero": false}, "axis": null}}},
     {"data": {"name": "wave"}, "transform": [{"filter": "datum.s === 'summer'"}], "mark": {"type": "line", "color": "#999999", "opacity": 0.7, "strokeWidth": 2.2, "interpolate": "monotone"}, "encoding": {"x": {"field": "x", "type": "quantitative", "scale": {"domain": [13, 222], "nice": false, "zero": false}, "axis": null}, "y": {"field": "h", "type": "quantitative", "scale": {"domain": [0, 136], "nice": false, "zero": false}, "axis": null}}},
     {"data": {"values": [{}]}, "mark": {"type": "rule", "color": "black", "strokeWidth": 2.5}, "encoding": {"x": {"datum": 0, "scale": {"domain": [13, 222], "nice": false, "zero": false}, "axis": null}, "y": {"datum": 0, "scale": {"domain": [0, 136], "nice": false, "zero": false}, "axis": null}, "y2": {"datum": 136}}},
     {"data": {"values": [{}]}, "mark": {"type": "rule", "color": "black", "strokeWidth": 2.5}, "encoding": {"x": {"datum": 0, "scale": {"domain": [13, 222], "nice": false, "zero": false}, "axis": null}, "x2": {"datum": 222}, "y": {"datum": 0, "scale": {"domain": [0, 136], "nice": false, "zero": false}, "axis": null}}},
     {"data": {"values": [{}]}, "mark": {"type": "text", "text": "winter", "fontSize": 19, "align": "left", "baseline": "middle"}, "encoding": {"x": {"datum": 137, "scale": {"domain": [13, 222], "nice": false, "zero": false}, "axis": null}, "y": {"datum": 96, "scale": {"domain": [0, 136], "nice": false, "zero": false}, "axis": null}}},
     {"data": {"values": [{}]}, "mark": {"type": "text", "text": "summer", "fontSize": 19, "align": "left", "baseline": "middle"}, "encoding": {"x": {"datum": 10, "scale": {"domain": [13, 222], "nice": false, "zero": false}, "axis": null}, "y": {"datum": 35, "scale": {"domain": [0, 136], "nice": false, "zero": false}, "axis": null}}},
     {"data": {"values": [{}]}, "mark": {"type": "text", "text": "Time", "fontSize": 19, "align": "left", "baseline": "middle"}, "encoding": {"x": {"datum": 65, "scale": {"domain": [13, 222], "nice": false, "zero": false}, "axis": null}, "y": {"datum": -20, "scale": {"domain": [0, 136], "nice": false, "zero": false}, "axis": null}}},
     {"data": {"values": [{}]}, "mark": {"type": "rule", "color": "black", "strokeWidth": 2}, "encoding": {"x": {"datum": 113, "scale": {"domain": [13, 222], "nice": false, "zero": false}, "axis": null}, "x2": {"datum": 141}, "y": {"datum": -21, "scale": {"domain": [0, 136], "nice": false, "zero": false}, "axis": null}}},
     {"data": {"values": [{}]}, "mark": {"type": "point", "shape": "triangle-right", "filled": true, "color": "black", "size": 50, "opacity": 1}, "encoding": {"x": {"datum": 143, "scale": {"domain": [13, 222], "nice": false, "zero": false}, "axis": null}, "y": {"datum": -21, "scale": {"domain": [0, 136], "nice": false, "zero": false}, "axis": null}}},
     {"data": {"values": [{}]}, "mark": {"type": "text", "text": "Temp.", "fontSize": 19, "align": "left", "baseline": "middle", "angle": 270}, "encoding": {"x": {"datum": -22, "scale": {"domain": [13, 222], "nice": false, "zero": false}, "axis": null}, "y": {"datum": 61, "scale": {"domain": [0, 136], "nice": false, "zero": false}, "axis": null}}},
     {"data": {"values": [{}]}, "mark": {"type": "rule", "color": "black", "strokeWidth": 2}, "encoding": {"x": {"datum": -22, "scale": {"domain": [13, 222], "nice": false, "zero": false}, "axis": null}, "y": {"datum": 104, "scale": {"domain": [0, 136], "nice": false, "zero": false}, "axis": null}, "y2": {"datum": 128}}},
     {"data": {"values": [{}]}, "mark": {"type": "point", "shape": "triangle-up", "filled": true, "color": "black", "size": 50, "opacity": 1}, "encoding": {"x": {"datum": -22, "scale": {"domain": [13, 222], "nice": false, "zero": false}, "axis": null}, "y": {"datum": 130, "scale": {"domain": [0, 136], "nice": false, "zero": false}, "axis": null}}},
     {"data": {"values": [{}]}, "mark": {"type": "text", "text": "D", "fontSize": 30, "align": "left", "baseline": "alphabetic"}, "encoding": {"x": {"datum": -44, "scale": {"domain": [13, 222], "nice": false, "zero": false}, "axis": null}, "y": {"datum": 158, "scale": {"domain": [0, 136], "nice": false, "zero": false}, "axis": null}}}
    ]
   }
  ],
  "spacing": 1,
  "bounds": "flush",
  "resolve": {"scale": {"x": "independent", "y": "independent"}}
 }
],
"spacing": 331,
"bounds": "flush",
"resolve": {"scale": {"x": "independent", "y": "independent"}}
}
